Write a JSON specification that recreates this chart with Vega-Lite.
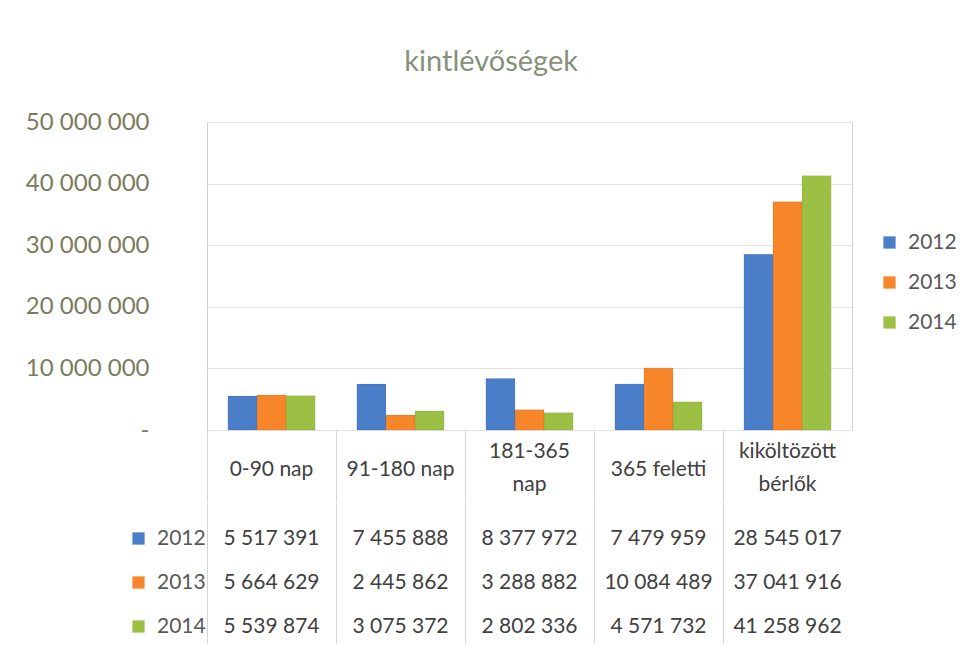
{
  "$schema": "https://vega.github.io/schema/vega-lite/v6.json",
  "background": "white",
  "padding": {"left": 24, "top": 47, "right": 5, "bottom": 5},
  "title": {"text": "kintlévőségek", "fontSize": 29, "font": "Lato", "fontWeight": "normal", "color": "#86917a", "offset": 33, "anchor": "middle"},
  "config": {
    "font": "Lato",
    "locale": {"number": {"decimal": ",", "thousands": " ", "grouping": [3], "currency": ["", " Ft"]}},
    "concat": {"spacing": 0}
  },
  "datasets": {
    "d": [
      {"cat": "0-90 nap", "year": "2012", "value": 5517391},
      {"cat": "0-90 nap", "year": "2013", "value": 5664629},
      {"cat": "0-90 nap", "year": "2014", "value": 5539874},
      {"cat": "91-180 nap", "year": "2012", "value": 7455888},
      {"cat": "91-180 nap", "year": "2013", "value": 2445862},
      {"cat": "91-180 nap", "year": "2014", "value": 3075372},
      {"cat": "181-365 nap", "year": "2012", "value": 8377972},
      {"cat": "181-365 nap", "year": "2013", "value": 3288882},
      {"cat": "181-365 nap", "year": "2014", "value": 2802336},
      {"cat": "365 feletti", "year": "2012", "value": 7479959},
      {"cat": "365 feletti", "year": "2013", "value": 10084489},
      {"cat": "365 feletti", "year": "2014", "value": 4571732},
      {"cat": "kiköltözött bérlők", "year": "2012", "value": 28545017},
      {"cat": "kiköltözött bérlők", "year": "2013", "value": 37041916},
      {"cat": "kiköltözött bérlők", "year": "2014", "value": 41258962}
    ]
  },
  "resolve": {"scale": {"color": "independent", "x": "shared"}, "legend": {"color": "independent"}},
  "vconcat": [
    {
      "width": 645,
      "height": 308,
      "data": {"name": "d"},
      "view": {"stroke": "#cfcfcf"},
      "mark": {"type": "bar", "stroke": "#00000022", "strokeWidth": 0.6},
      "encoding": {
        "x": {
          "field": "cat", "type": "nominal",
          "sort": ["0-90 nap", "91-180 nap", "181-365 nap", "365 feletti", "kiköltözött bérlők"],
          "scale": {"paddingInner": 0, "paddingOuter": 0},
          "axis": {
            "title": null, "domain": false, "ticks": true, "tickSize": 72, "tickColor": "#d4d4d4", "bandPosition": 0,
            "labelAngle": 0, "labelFontSize": 21, "labelColor": "#404040", "labelBaseline": "middle", "labelLineHeight": 33,
            "labelPadding": {"condition": {"test": "datum.value == '181-365 nap' || datum.value == 'kiköltözött bérlők'", "value": -51}, "value": -33},
            "labelExpr": "datum.value == '181-365 nap' ? ['181-365', 'nap'] : datum.value == 'kiköltözött bérlők' ? ['kiköltözött', 'bérlők'] : datum.value"
          }
        },
        "xOffset": {"field": "year", "type": "nominal", "scale": {"paddingOuter": 0.72, "paddingInner": 0}},
        "y": {
          "field": "value", "type": "quantitative",
          "scale": {"domain": [0, 50000000]},
          "axis": {
            "title": null, "values": [0, 10000000, 20000000, 30000000, 40000000, 50000000], "format": ",d",
            "labelExpr": "datum.value == 0 ? '-' : datum.label",
            "domain": false, "ticks": false, "labelPadding": 58, "labelFontSize": 24, "labelColor": "#7b7b5e", "gridColor": "#e3e3e3"
          }
        },
        "color": {
          "field": "year", "type": "nominal",
          "scale": {"domain": ["2012", "2013", "2014"], "range": ["#4a7ec9", "#f7862a", "#9cc043"]},
          "legend": {
            "title": null, "orient": "none", "legendX": 672, "legendY": 110,
            "symbolType": "square", "symbolSize": 150, "symbolStrokeWidth": 0,
            "labelFontSize": 21, "labelColor": "#595959", "rowPadding": 18, "labelOffset": 8
          }
        }
      }
    },
    {
      "width": 645,
      "height": 140,
      "data": {"name": "d"},
      "view": {"stroke": null},
      "encoding": {
        "x": {
          "field": "cat", "type": "nominal",
          "sort": ["0-90 nap", "91-180 nap", "181-365 nap", "365 feletti", "kiköltözött bérlők"],
          "axis": {"title": null, "orient": "top", "grid": true, "gridColor": "#d4d4d4", "bandPosition": 0, "labels": false, "ticks": false, "domain": false}
        },
        "y": {"field": "year", "type": "ordinal", "scale": {"type": "point", "padding": 0.59, "align": 0.69}, "axis": null}
      },
      "layer": [
        {
          "mark": {"type": "text", "fontSize": 21, "color": "#404040"},
          "encoding": {"text": {"field": "value", "type": "quantitative", "format": ",d"}}
        },
        {
          "mark": {"type": "square", "opacity": 0, "filled": true},
          "encoding": {
            "color": {
              "field": "year", "type": "nominal",
              "scale": {"domain": ["2012", "2013", "2014"], "range": ["#4a7ec9", "#f7862a", "#9cc043"]},
              "legend": {
                "title": null, "orient": "none", "legendX": -79, "legendY": 25,
                "symbolType": "square", "symbolSize": 150, "symbolStrokeWidth": 0, "symbolOpacity": 1,
                "labelFontSize": 21, "labelColor": "#595959", "rowPadding": 22, "labelOffset": 8
              }
            }
          }
        }
      ]
    }
  ]
}
